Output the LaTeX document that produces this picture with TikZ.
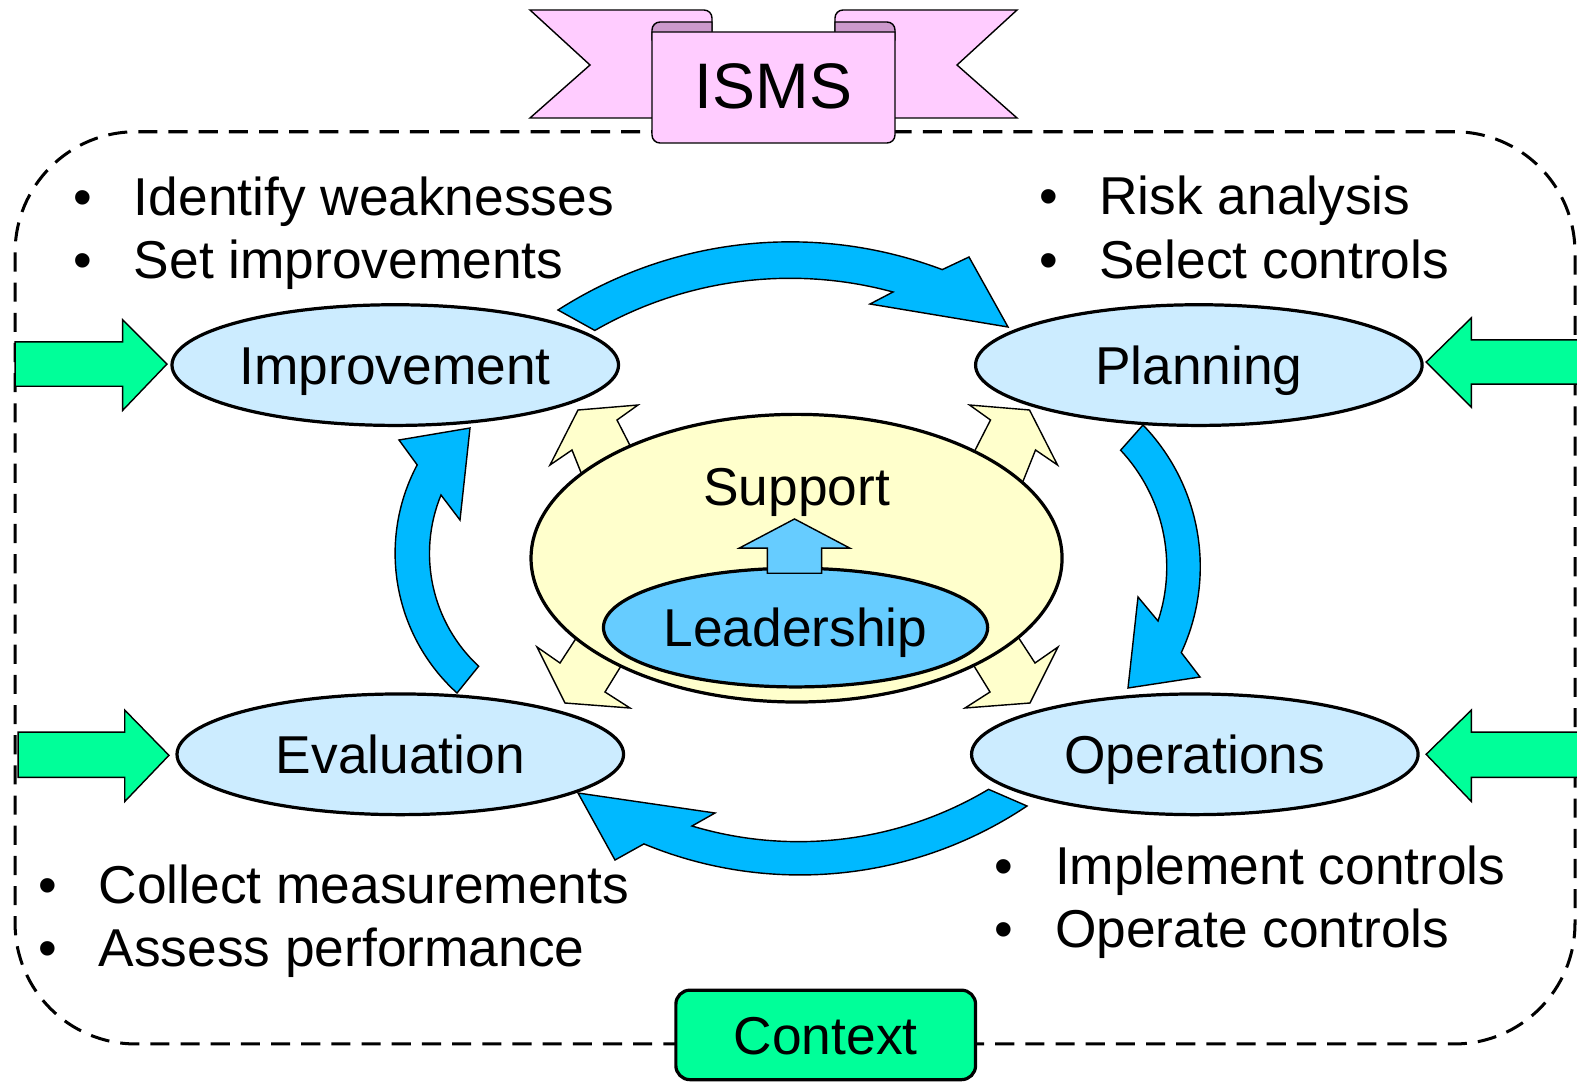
\documentclass[tikz,border=0pt]{standalone}
\usepackage{fontspec}
\setmainfont{Liberation Sans}
\usetikzlibrary{shapes.geometric}
\usetikzlibrary{positioning}
\definecolor{phase colour}{HTML}{CCECFF}
\definecolor{cycle colour}{HTML}{00B9FF}
\definecolor{support colour}{HTML}{FFFFCC}
\definecolor{leader colour}{HTML}{66CCFF}
\definecolor{context colour}{HTML}{00FF99}
\definecolor{ribbon colour}{HTML}{FFCCFF}
\definecolor{fold colour}{HTML}{CC99CC}
\newcommand{\noteitem}[1]{\makebox[60pt][l]{\textbullet}#1}
\tikzset{
    % One unit is one pixel of the drawing, y runs downwards
    big text/.style={font=\fontsize{53}{63}\selectfont},
    title text/.style={font=\fontsize{64}{72}\selectfont},
%
    % Ellipses and boxes
    phase/.style={
        draw, ellipse, line width=3.2pt, fill=phase colour, big text,
        minimum width=444pt, minimum height=120pt, inner sep=0pt,
        text height=38pt, text depth=0pt},
    label text/.style={big text, inner sep=0pt, text height=38pt, text depth=0pt},
    context box/.style={
        draw, rectangle, rounded corners=14pt, line width=3.2pt,
        fill=context colour, minimum width=298pt, minimum height=89pt,
        label text},
    note line/.style={big text, anchor=base west, inner sep=0pt},
%
    % Block arrows
    cycle arrow/.style={draw, line width=1.4pt, fill=cycle colour},
    support arrow/.style={draw, line width=1.4pt, fill=support colour},
    input arrow/.style={draw, line width=1.4pt, fill=context colour},
    lead arrow/.style={draw, line width=1.4pt, fill=leader colour},
%
    % Banner
    ribbon face/.style={draw, line width=1.4pt, fill=ribbon colour},
    ribbon fold/.style={draw, line width=1.4pt, fill=fold colour},
    cycle frame/.style={
        draw, line width=3pt, dash pattern=on 19pt off 11pt,
        rounded corners=120pt},
}

\begin{document}
\begin{tikzpicture}[x=1pt, y=-1pt]
\useasboundingbox (0,0) rectangle (1568,1075);

\draw [cycle frame] (15,131) rectangle (1566,1038);

\begin{scope}[scale=0.9943]
% ISMS banner
\filldraw [ribbon face] (530,10) -- (704,10) arc [start angle=-90, end angle=0, radius=8]
    -- (712,118) -- (530,118) -- (590,65) -- cycle;
\filldraw [ribbon face] (1017,10) -- (843,10) arc [start angle=-90, end angle=-180, radius=8]
    -- (835,118) -- (1017,118) -- (957,65) -- cycle;
\filldraw [ribbon fold] (712,22) -- (660,22) arc [start angle=-90, end angle=-180, radius=8]
    -- (652,40) -- (712,40) -- cycle;
\filldraw [ribbon fold] (835,22) -- (887,22) arc [start angle=-90, end angle=0, radius=8]
    -- (895,40) -- (835,40) -- cycle;
\filldraw [ribbon face] (652,32) -- (652,135) arc [start angle=180, end angle=90, radius=8]
    -- (887,143) arc [start angle=90, end angle=0, radius=8] -- (895,32) -- cycle;
\node [title text] (isms) at (773.5,86) {ISMS};

% the cycle
\filldraw [cycle arrow] (558,310) arc [start angle=237.3, end angle=290.7, radius=430]
    -- (969,257) -- (1008,327) -- (870,304)
    -- (893,292) arc [start angle=285.2, end angle=240.1, radius=392] -- cycle;
\filldraw [cycle arrow] (1143,425) arc [start angle=-44, end angle=24.9, radius=204]
    -- (1200,677) -- (1128,688) -- (1138,597)
    -- (1158,621) arc [start angle=18.4, end angle=-43.1, radius=171] -- cycle;
\filldraw [cycle arrow] (1027,806) arc [start angle=56.2, end angle=112.5, radius=408]
    -- (615,860) -- (578,793) -- (715,813)
    -- (692,826) arc [start angle=106.7, end angle=59.2, radius=371] -- cycle;
\filldraw [cycle arrow] (457,693) arc [start angle=132.2, end angle=208, radius=188.5]
    -- (399,440) -- (470,428) -- (460,520)
    -- (441,495) arc [start angle=202.3, end angle=132.9, radius=154] -- cycle;

% support pushes out to every phase
\filldraw [support arrow] (550,465) -- (578,410) -- (638,405) -- (617,420)
    -- (640,465) -- (590,495) -- (572,450) -- cycle;
\filldraw [support arrow] (1057.5,465) -- (1029.5,410) -- (969.5,405) -- (990.5,420)
    -- (967.5,465) -- (1017.5,495) -- (1035.5,450) -- cycle;
\filldraw [support arrow] (588,620) -- (560,663) -- (537,647) -- (565,703)
    -- (630,708) -- (605,692) -- (637,640) -- cycle;
\filldraw [support arrow] (1007,620) -- (1035,663) -- (1058,647) -- (1030,703)
    -- (965,708) -- (990,692) -- (958,640) -- cycle;
\end{scope}

% context inputs
\filldraw [input arrow] (15,340) -- (122,340) -- (122,318) -- (166,362)
    -- (122,408) -- (122,384) -- (15,384) -- cycle;
\filldraw [input arrow] (18,728) -- (124,728) -- (124,706) -- (168,751)
    -- (124,797) -- (124,773) -- (18,773) -- cycle;
\filldraw [input arrow] (1580,338) -- (1463,338) -- (1463,316) -- (1418,360)
    -- (1463,405) -- (1463,382) -- (1580,382) -- cycle;
\filldraw [input arrow] (1580,728) -- (1463,728) -- (1463,706) -- (1418,750)
    -- (1463,797) -- (1463,773) -- (1580,773) -- cycle;

% centre
\node [phase, fill=support colour, minimum width=528pt, minimum height=286pt]
    (support) at (792,555) {};
\node [label text] (support text) at (792,484) {Support};
\node [phase, fill=leader colour, minimum width=382pt, minimum height=118pt]
    (leadership) at (791,624) {Leadership};
\filldraw [lead arrow] (763,570) -- (763,545) -- (735,545) -- (790,516)
    -- (845,545) -- (817,545) -- (817,570) -- cycle;

% phases
\node [phase] (improvement) at (393,363) {Improvement};
\node [phase] (planning) at (1192,363) {Planning};
\node [phase] (evaluation) at (398,750) {Evaluation};
\node [phase] (operations) at (1188,750) {Operations};

% notes
\path
    (73,214) node [note line] (weak) {\noteitem{Identify weaknesses}}
    ++(0,63) node [note line] (set) {\noteitem{Set improvements}}
    (1033,213) node [note line] (risk) {\noteitem{Risk analysis}}
    ++(0,64) node [note line] (select) {\noteitem{Select controls}}
    (38,898) node [note line] (collect) {\noteitem{Collect measurements}}
    ++(0,63) node [note line] (assess) {\noteitem{Assess performance}}
    (989,879) node [note line] (implement) {\noteitem{Implement controls}}
    ++(0,63) node [note line] (operate) {\noteitem{Operate controls}};

\node [context box] (context) at (821,1029) {Context};

\end{tikzpicture}
\end{document}
